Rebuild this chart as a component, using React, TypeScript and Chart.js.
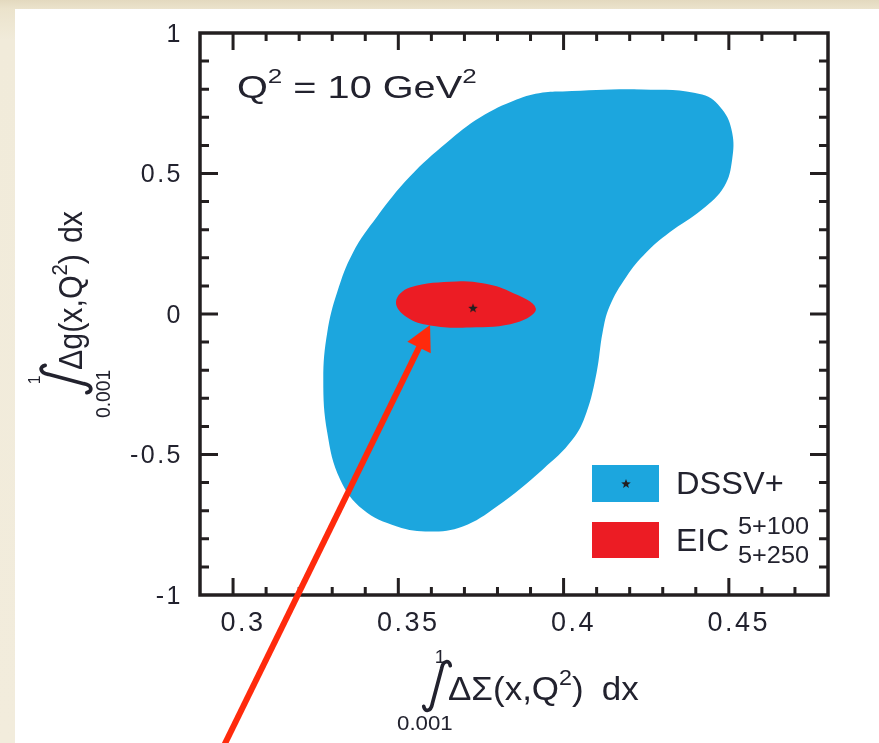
import React, { useEffect, useRef } from "react";
import { Chart, registerables } from "chart.js";

Chart.register(...registerables);

// Axis ranges and tick marks
const X_RANGE = [0.29, 0.48];
const Y_RANGE = [-1, 1];
const X_TICKS = [0.3, 0.35, 0.4, 0.45];
const Y_TICKS = [-1, -0.5, 0, 0.5, 1];
const X_MINOR_STEP = 0.01;
const Y_MINOR_STEP = 0.1;

// DSSV+ uncertainty region, contour traced clockwise from the top
const DSSV_X = [
  0.3997, 0.4238, 0.4419, 0.448, 0.451, 0.451, 0.4486, 0.4419, 0.432, 0.425,
  0.419, 0.4139, 0.4118, 0.41, 0.4069, 0.4027, 0.3937, 0.3798, 0.3695, 0.3596,
  0.3496, 0.3393, 0.3324, 0.3285, 0.3273, 0.3285, 0.3315, 0.3363, 0.3436,
  0.3535, 0.3647, 0.3747, 0.3858, 0.3937,
];
const DSSV_Y = [
  0.792, 0.799, 0.781, 0.728, 0.646, 0.55, 0.454, 0.372, 0.29, 0.219, 0.133,
  0.027, -0.066, -0.208, -0.351, -0.447, -0.553, -0.685, -0.756, -0.774,
  -0.756, -0.696, -0.589, -0.422, -0.233, -0.066, 0.077, 0.219, 0.347, 0.489,
  0.61, 0.699, 0.763, 0.788,
];

// EIC projected region (5+100, 5+250)
const EIC_X = [0.3493, 0.3535, 0.3677, 0.3756, 0.3837, 0.3916, 0.3858, 0.3716, 0.3596, 0.3526];
const EIC_Y = [0.044, 0.094, 0.116, 0.109, 0.08, 0.02, -0.03, -0.048, -0.041, -0.012];

// DSSV+ central value
const BEST_X = [0.3726];
const BEST_Y = [0.022];

// Arrow pointing at the EIC region (tail, tip)
const ARROW_X = [0.2963, 0.3596];
const ARROW_Y = [-1.559, -0.039];

const SERIES_LABELS = ["DSSV+", "EIC"];
const EIC_ENERGIES = ["5+100", "5+250"];

const BLUE = "#1ca6de";
const RED = "#ec1c24";
const ARROW_RED = "#ff2a0c";
const INK = "#231f20";
const TEXT = "#22222e";
const FONT = '"Liberation Sans", Arial, Helvetica, sans-serif';

type Pt = { x: number; y: number };

// Wrap the contour so the smoothed curve closes without a corner
function closedLoop(xs: number[], ys: number[]): Pt[] {
  const pts = xs.map((x, i) => ({ x, y: ys[i] }));
  const n = pts.length;
  return [pts[n - 1], ...pts, pts[0], pts[1]];
}

function starPath(ctx: CanvasRenderingContext2D, cx: number, cy: number, R: number) {
  const r = R * 0.42;
  ctx.beginPath();
  for (let i = 0; i < 10; i++) {
    const a = -Math.PI / 2 + (i * Math.PI) / 5;
    const rad = i % 2 ? r : R;
    ctx.lineTo(cx + rad * Math.cos(a), cy + rad * Math.sin(a));
  }
  ctx.closePath();
}

function starImage(R: number, color: string) {
  const size = Math.ceil(R * 2) + 2;
  const c = document.createElement("canvas");
  c.width = size;
  c.height = size;
  const g = c.getContext("2d")!;
  g.fillStyle = color;
  starPath(g, size / 2, size / 2 + 0.5, R);
  g.fill();
  return c;
}

type Run = { text: string; size: number; dy?: number; gap?: number };

// Draw a line of text pieces (superscripts etc.), stretched horizontally by sx
function drawRuns(ctx: CanvasRenderingContext2D, runs: Run[], x: number, y: number, sx: number, color = TEXT) {
  ctx.save();
  ctx.translate(x, y);
  ctx.scale(sx, 1);
  ctx.fillStyle = color;
  ctx.textBaseline = "alphabetic";
  ctx.textAlign = "left";
  let cx = 0;
  for (const r of runs) {
    ctx.font = `${r.size}px ${FONT}`;
    cx += r.gap || 0;
    ctx.fillText(r.text, cx, r.dy || 0);
    cx += ctx.measureText(r.text).width;
  }
  ctx.restore();
}

function drawIntegral(ctx: CanvasRenderingContext2D, cx: number, cy: number, h: number) {
  const s = h / 47;
  ctx.save();
  ctx.translate(cx, cy);
  ctx.scale(s, s);
  ctx.strokeStyle = TEXT;
  ctx.lineWidth = 3.6;
  ctx.lineCap = "round";
  ctx.beginPath();
  ctx.moveTo(13, -20);
  ctx.bezierCurveTo(12, -25.5, 6, -25.5, 4.5, -17);
  ctx.lineTo(-4.5, 17);
  ctx.bezierCurveTo(-6, 25.5, -12, 25.5, -13, 20);
  ctx.stroke();
  ctx.restore();
}

type IntegralLayout = {
  ox: number;
  oy: number;
  angle: number;
  sx: number;
  intC: [number, number];
  intH: number;
  upper: [number, number, number];
  lower: [number, number, number];
  runs: Run[];
};

// Integral-style axis title: limits, integral sign and integrand
function drawIntegralTitle(ctx: CanvasRenderingContext2D, L: IntegralLayout) {
  ctx.save();
  ctx.translate(L.ox, L.oy);
  ctx.rotate(L.angle);
  drawIntegral(ctx, L.intC[0], L.intC[1], L.intH);
  ctx.save();
  ctx.font = `${L.upper[2]}px ${FONT}`;
  const w1 = ctx.measureText("1").width * L.sx;
  ctx.restore();
  drawRuns(ctx, [{ text: "1", size: L.upper[2] }], L.upper[0] - w1 / 2, L.upper[1], L.sx);
  drawRuns(ctx, [{ text: "0.001", size: L.lower[2] }], L.lower[0], L.lower[1], L.sx);
  drawRuns(ctx, L.runs, 0, 0, L.sx);
  ctx.restore();
}

const decorPlugin = {
  id: "decor",
  beforeDraw(chart: any) {
    chart.ctx.letterSpacing = "2.5px";
  },
  beforeDatasetsDraw(chart: any) {
    chart.ctx.letterSpacing = "0px";
  },
  afterDatasetsDraw(chart: any) {
    const ctx: CanvasRenderingContext2D = chart.ctx;
    const { left, right, top, bottom } = chart.chartArea;
    const xs = chart.scales.x;
    const ys = chart.scales.y;

    // frame
    ctx.save();
    ctx.strokeStyle = INK;
    ctx.lineWidth = 3.5;
    ctx.lineJoin = "miter";
    ctx.strokeRect(left, top, right - left, bottom - top);

    // inward ticks on all four sides
    ctx.lineWidth = 3;
    ctx.lineCap = "butt";
    const near = (a: number, b: number) => Math.abs(a - b) < 1e-6;
    const xStart = Math.ceil(X_RANGE[0] / X_MINOR_STEP - 1e-6);
    const xEnd = Math.floor(X_RANGE[1] / X_MINOR_STEP + 1e-6);
    for (let k = xStart; k <= xEnd; k++) {
      const v = +(k * X_MINOR_STEP).toFixed(4);
      if (near(v, X_RANGE[0]) || near(v, X_RANGE[1])) continue;
      const major = X_TICKS.some((t) => near(t, v));
      const len = major ? 17 : 8;
      const px = xs.getPixelForValue(v);
      ctx.beginPath();
      ctx.moveTo(px, bottom);
      ctx.lineTo(px, bottom - len);
      ctx.moveTo(px, top);
      ctx.lineTo(px, top + len);
      ctx.stroke();
    }
    const yStart = Math.ceil(Y_RANGE[0] / Y_MINOR_STEP - 1e-6);
    const yEnd = Math.floor(Y_RANGE[1] / Y_MINOR_STEP + 1e-6);
    for (let k = yStart; k <= yEnd; k++) {
      const v = +(k * Y_MINOR_STEP).toFixed(4);
      if (near(v, Y_RANGE[0]) || near(v, Y_RANGE[1])) continue;
      const major = Y_TICKS.some((t) => near(t, v));
      const len = major ? 18 : 9;
      const py = ys.getPixelForValue(v);
      ctx.beginPath();
      ctx.moveTo(left, py);
      ctx.lineTo(left + len, py);
      ctx.moveTo(right, py);
      ctx.lineTo(right - len, py);
      ctx.stroke();
    }
    ctx.restore();

    // panel label
    drawRuns(
      ctx,
      [
        { text: "Q", size: 32 },
        { text: "2", size: 21, dy: -15 },
        { text: " = 10 GeV", size: 32 },
        { text: "2", size: 21, dy: -15 },
      ],
      left + 37,
      top + 65,
      1.24
    );

    // legend
    const lx = right - 236;
    const ly = top + 432;
    ctx.save();
    ctx.fillStyle = BLUE;
    ctx.fillRect(lx, ly, 67, 37);
    ctx.fillStyle = RED;
    ctx.fillRect(lx, ly + 57, 67, 36);
    ctx.fillStyle = INK;
    starPath(ctx, lx + 34, ly + 19, 5);
    ctx.fill();
    ctx.restore();
    drawRuns(ctx, [{ text: SERIES_LABELS[0], size: 31 }], lx + 84, ly + 28.5, 1.05);
    drawRuns(ctx, [{ text: SERIES_LABELS[1], size: 31 }], lx + 84, ly + 85.5, 1.03);
    drawRuns(ctx, [{ text: EIC_ENERGIES[0], size: 23 }], lx + 146, ly + 69, 1.1);
    drawRuns(ctx, [{ text: EIC_ENERGIES[1], size: 23 }], lx + 146, ly + 97.5, 1.1);

    // axis titles
    drawIntegralTitle(ctx, {
      ox: left + 248,
      oy: bottom + 105,
      angle: 0,
      sx: 1.06,
      intC: [-11, -14],
      intH: 48,
      upper: [-8, -37, 18],
      lower: [-51, 30, 21],
      runs: [
        { text: "ΔΣ(x,Q", size: 33 },
        { text: "2", size: 22, dy: -15 },
        { text: ")", size: 33 },
        { text: "dx", size: 33, gap: 17 },
      ],
    });
    drawIntegralTitle(ctx, {
      ox: left - 118,
      oy: ys.getPixelForValue(0) + 56,
      angle: -Math.PI / 2,
      sx: 0.92,
      intC: [-9, -16],
      intH: 49,
      upper: [-10, -42, 17],
      lower: [-48, 28, 21],
      runs: [
        { text: "Δg(x,Q", size: 33 },
        { text: "2", size: 22, dy: -15 },
        { text: ")", size: 33 },
        { text: "dx", size: 33, gap: 12 },
      ],
    });

    // arrow
    const tx = xs.getPixelForValue(ARROW_X[0]);
    const ty = ys.getPixelForValue(ARROW_Y[0]);
    const hx = xs.getPixelForValue(ARROW_X[1]);
    const hy = ys.getPixelForValue(ARROW_Y[1]);
    const dx = hx - tx;
    const dy = hy - ty;
    const len = Math.hypot(dx, dy);
    const ux = dx / len;
    const uy = dy / len;
    const headLen = 25;
    const headHalf = 13;
    const bx = hx - ux * headLen;
    const by = hy - uy * headLen;
    ctx.save();
    ctx.strokeStyle = ARROW_RED;
    ctx.fillStyle = ARROW_RED;
    ctx.lineWidth = 6;
    ctx.beginPath();
    ctx.moveTo(tx, ty);
    ctx.lineTo(bx + ux * 2, by + uy * 2);
    ctx.stroke();
    ctx.beginPath();
    ctx.moveTo(hx, hy);
    ctx.lineTo(bx - uy * headHalf, by + ux * headHalf);
    ctx.lineTo(bx + uy * headHalf, by - ux * headHalf);
    ctx.closePath();
    ctx.fill();
    ctx.restore();
  },
};

export default function App() {
  const canvasRef = useRef<HTMLCanvasElement | null>(null);

  useEffect(() => {
    const canvas = canvasRef.current;
    if (!canvas) return;
    const fmt = (v: number | string) => String(Number(v));
    const chart = new Chart(canvas, {
      type: "scatter",
      data: {
        datasets: [
          {
            label: SERIES_LABELS[0],
            data: closedLoop(DSSV_X, DSSV_Y),
            showLine: true,
            fill: "shape",
            backgroundColor: BLUE,
            borderColor: "rgba(0,0,0,0)",
            borderWidth: 0,
            pointRadius: 0,
            tension: 0.4,
            order: 3,
          } as any,
          {
            label: SERIES_LABELS[1],
            data: closedLoop(EIC_X, EIC_Y),
            showLine: true,
            fill: "shape",
            backgroundColor: RED,
            borderColor: "rgba(0,0,0,0)",
            borderWidth: 0,
            pointRadius: 0,
            tension: 0.4,
            order: 2,
          } as any,
          {
            label: "central value",
            data: BEST_X.map((x, i) => ({ x, y: BEST_Y[i] })),
            pointStyle: starImage(5, INK),
            pointRadius: 5,
            order: 1,
          } as any,
        ],
      },
      options: {
        responsive: false,
        animation: false,
        events: [],
        layout: { padding: { left: 0, top: 33, right: 51, bottom: 0 } },
        plugins: {
          legend: { display: false },
          tooltip: { enabled: false },
          title: { display: false },
        },
        scales: {
          x: {
            type: "linear",
            min: X_RANGE[0],
            max: X_RANGE[1],
            grid: { display: false, drawTicks: false },
            border: { display: false },
            afterBuildTicks: (s: any) => {
              s.ticks = X_TICKS.map((value) => ({ value }));
            },
            afterFit: (s: any) => {
              s.height = 148;
            },
            ticks: {
              callback: fmt,
              font: { family: FONT, size: 27 },
              color: TEXT,
              padding: 12,
              labelOffset: 10,
              maxRotation: 0,
              autoSkip: false,
            },
          },
          y: {
            type: "linear",
            min: Y_RANGE[0],
            max: Y_RANGE[1],
            grid: { display: false, drawTicks: false },
            border: { display: false },
            afterBuildTicks: (s: any) => {
              s.ticks = Y_TICKS.map((value) => ({ value }));
            },
            afterFit: (s: any) => {
              s.width = 200;
            },
            ticks: {
              callback: fmt,
              font: { family: FONT, size: 25 },
              color: TEXT,
              padding: 17,
              labelOffset: 2,
              autoSkip: false,
            },
          },
        },
      } as any,
      plugins: [decorPlugin as any],
    });
    return () => chart.destroy();
  }, []);

  return (
    <div
      style={{
        position: "fixed",
        left: 0,
        top: 0,
        width: 879,
        height: 743,
        overflow: "hidden",
        background: "linear-gradient(180deg, #e3d9bf 0px, #ebe3cc 9px, #f1ebda 40px, #f2ecdc 100%)",
      }}
    >
      <div style={{ position: "absolute", left: 15, top: 9, right: 0, bottom: 0, background: "#ffffff" }} />
      <canvas
        ref={canvasRef}
        width={879}
        height={743}
        style={{ position: "absolute", left: 0, top: 0, width: 879, height: 743 }}
      />
    </div>
  );
}
